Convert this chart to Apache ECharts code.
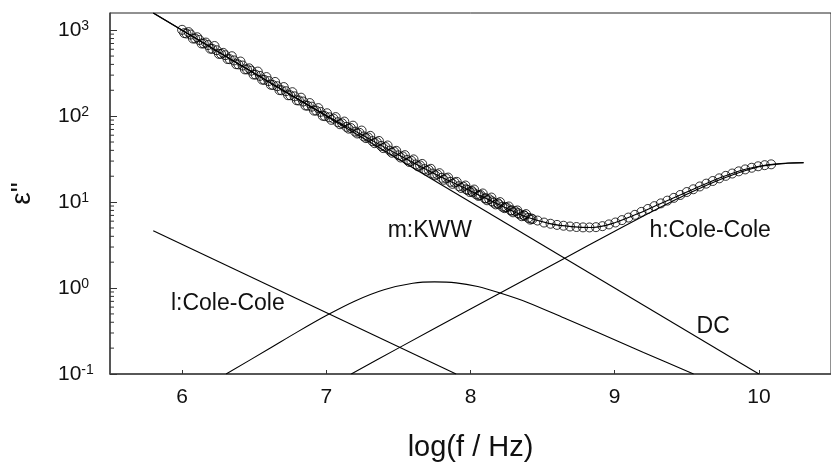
<!DOCTYPE html>
<html><head><meta charset="utf-8">
<script src="https://cdn.jsdelivr.net/npm/echarts@6/dist/echarts.min.js"></script>
<style>html,body{margin:0;padding:0;background:#fff}#c{width:831px;height:470px}</style>
</head><body><div id="c"></div>
<script>
// ---- data ----
const xTicks = [6, 7, 8, 9, 10];
const yMinorTicks = [0.2,0.3,0.4,0.5,0.6,0.7,0.8,0.9, 2,3,4,5,6,7,8,9, 20,30,40,50,60,70,80,90, 200,300,400,500,600,700,800,900];

// measured points, dense low-frequency set (first run)
const freqA = [6.00,6.03,6.06,6.09,6.12,6.15,6.18,6.21,6.24,6.27,6.30,6.33,6.36,6.39,6.42,6.45,6.48,6.51,6.54,6.57,
  6.60,6.63,6.66,6.69,6.72,6.75,6.78,6.81,6.84,6.87,6.90,6.93,6.96,6.99,7.02,7.05,7.08,7.11,7.14,7.17,
  7.20,7.23,7.26,7.29,7.32,7.35,7.38,7.41,7.44,7.47,7.50,7.53,7.56,7.59,7.62,7.65,7.68,7.71,7.74,7.77,
  7.80,7.83,7.86,7.89,7.92,7.95,7.98,8.01,8.04,8.07,8.10,8.13,8.16,8.19,8.22,8.25,8.28,8.31,8.34,8.37,8.40,8.43];
const epsA = [1010,915,890,800,770,700,672,605,585,530,512,460,445,400,388,350,338,304,294,264,
  256,230,223,200,195,175,170,152,148,132,129,116,112,100,97,93.5,85,82.5,75,72.8,
  66,64,58,56.5,51.2,49.8,45,43.8,39.7,38.6,35,34,30.9,30.2,27.4,26.7,24.2,23.7,21.5,21.0,
  19.2,18.9,17.2,16.9,15.3,15.1,13.8,13.5,12.3,12.1,11.0,10.8,9.85,9.7,8.85,8.7,7.95,7.85,7.2,7.05,6.55,6.35];

// measured points, dense low-frequency set (second run)
const freqA2 = [6.015,6.045,6.075,6.105,6.135,6.165,6.195,6.225,6.255,6.285,6.315,6.345,6.375,6.405,6.435,6.465,6.495,6.525,6.555,6.585,
  6.615,6.645,6.675,6.705,6.735,6.765,6.795,6.825,6.855,6.885,6.915,6.945,6.975,7.005,7.035,7.065,7.095,7.125,7.155,7.185,
  7.215,7.245,7.275,7.305,7.335,7.365,7.395,7.425,7.455,7.485,7.515,7.545,7.575,7.605,7.635,7.665,7.695,7.725,7.755,7.785,
  7.815,7.845,7.875,7.905,7.935,7.965,7.995,8.025,8.055,8.085,8.115,8.145,8.175,8.205,8.235,8.265,8.295,8.325,8.355,8.385,8.415];
const epsA2 = [925,950,800,828,700,718,610,655,530,545,462,498,402,432,350,360,305,330,266,285,
  232,250,201,218,175,190,153,164,133,142,116,124,101,108,90.5,97.5,80.5,86.5,71.5,77.5,
  62.8,68,55.5,59,48.5,51.5,42.5,45.6,37.5,39.5,33.0,35.2,29.3,31.4,26.1,27.8,23.1,24.4,20.5,21.7,
  18.2,19.3,16.3,17.2,14.6,15.6,13.1,14.0,11.8,12.6,10.5,11.3,9.4,10.0,8.5,8.9,7.6,8.0,6.85,7.25,6.25];

// measured points, high-frequency set
const freqB = [7.97,8.015,8.06,8.105,8.15,8.195,8.24,8.285,8.33,8.375,8.42,8.465,8.51,8.555,8.60,8.645,8.69,8.735,8.78,8.825,
  8.87,8.915,8.96,9.005,9.05,9.095,9.14,9.185,9.23,9.275,9.32,9.365,9.41,9.455,9.50,9.545,9.59,9.635,9.68,9.725,
  9.77,9.815,9.86,9.905,9.95,9.995,10.04,10.085];
const epsB = [14.1,13.0,12.0,11.1,10.2,9.44,8.71,8.04,7.45,6.92,6.46,6.10,5.78,5.60,5.43,5.31,5.20,5.13,5.08,5.07,
  5.11,5.25,5.50,5.79,6.17,6.61,7.11,7.69,8.32,8.97,9.66,10.4,11.2,12.1,13.1,14.1,15.2,16.4,17.6,18.9,
  20.2,21.5,22.8,24.0,25.1,26.1,26.9,27.5];

// total fit
const fitFreq = [5.8,6.0,6.5,7.0,7.25,7.5,7.75,8.0,8.25,8.4,8.55,8.7,8.85,9.0,9.15,9.3,9.45,9.6,9.75,9.9,10.05,10.2,10.31];
const fitEps  = [1585,1000,316,102,60.3,35.5,21.4,13.5,8.5,6.6,5.62,5.19,5.07,5.75,7.2,9.3,12.0,15.5,19.7,23.9,27.0,28.5,28.8];

// components
const dcFreq = [5.8, 10.0];
const dcEps  = [1585, 0.1];
const lowFreq = [5.8, 7.9];
const lowEps  = [4.65, 0.1];
const kwwFreq = [6.305,6.6,6.8,7.0,7.2,7.4,7.6,7.75,7.9,8.05,8.2,8.4,8.65,8.9,9.2,9.547];
const kwwEps  = [0.1,0.195,0.309,0.479,0.708,0.955,1.135,1.18,1.15,1.04,0.88,0.676,0.447,0.295,0.178,0.1];
const highFreq = [7.173,7.5,8.0,8.65,9.0,9.25,9.5,9.75,10.0,10.2,10.31];
const highEps  = [0.1,0.2,0.569,2.21,4.57,7.6,12.3,18.8,25.8,28.3,28.7];

// annotation texts and their anchors (data coordinates)
const labelTexts = ['m:KWW', 'h:Cole-Cole', 'l:Cole-Cole', 'DC'];
const labelFreq  = [7.718, 9.662, 6.317, 9.683];
const labelEps   = [4.6, 4.6, 0.652, 0.355];

// ---- chart ----
const FONT = "'Liberation Sans', Arial, sans-serif";
const zip = (a, b) => a.map((x, i) => [x, b[i]]);
const lineStyle = { color: '#000', width: 1.1 };
const mkLine = (f, e, smooth) => ({
  type: 'line', data: zip(f, e), symbol: 'none', smooth: smooth ? 0.3 : false,
  lineStyle: lineStyle, silent: true, z: 3, clip: true
});
const mkScatter = (f, e, size) => ({
  type: 'scatter', data: zip(f, e), symbol: 'circle', symbolSize: size,
  itemStyle: { color: 'transparent', borderColor: '#000', borderWidth: 1 }, z: 2
});

const chart = echarts.init(document.getElementById('c'), null, { renderer: 'canvas' });
chart.setOption({
  animation: false,
  backgroundColor: '#fff',
  grid: { left: 110, top: 13, right: -4, bottom: 96, show: true, borderColor: '#222', borderWidth: 1, backgroundColor: 'transparent' },
  xAxis: {
    type: 'value', min: 5.5, max: 10.5,
    name: 'log(f / Hz)', nameLocation: 'middle', nameGap: 59,
    nameTextStyle: { fontFamily: FONT, fontSize: 29, color: '#111' },
    axisLine: { show: true, lineStyle: { color: '#444', width: 1.5 } },
    axisTick: { show: true, inside: true, length: 4, customValues: xTicks, lineStyle: { color: '#333' } },
    axisLabel: { customValues: xTicks, margin: 13, fontFamily: FONT, fontSize: 21, color: '#111' },
    splitLine: { show: false }
  },
  yAxis: {
    type: 'log', logBase: 10, min: 0.1, max: 1585,
    name: 'ε"', nameLocation: 'middle', nameGap: 74, nameRotate: 90,
    nameTextStyle: { fontFamily: FONT, fontSize: 28, color: '#111' },
    axisLine: { show: true, lineStyle: { color: '#444', width: 1.5 } },
    axisTick: { show: true, inside: true, length: 7, lineStyle: { color: '#333' } },
    axisLabel: {
      showMaxLabel: false, showMinLabel: true, align: 'left', margin: 52,
      formatter: v => '{b|10}{s|' + Math.round(Math.log10(v)) + '}',
      rich: {
        b: { fontFamily: FONT, fontSize: 21, color: '#111', lineHeight: 22 },
        s: { fontFamily: FONT, fontSize: 14, color: '#111', verticalAlign: 'top', lineHeight: 14 }
      }
    },
    splitLine: { show: false }
  },
  series: [
    mkScatter(freqA, epsA, 9),
    mkScatter(freqA2, epsA2, 9),
    mkScatter(freqB, epsB, 9),
    mkLine(fitFreq, fitEps, true),
    mkLine(dcFreq, dcEps, false),
    mkLine(lowFreq, lowEps, false),
    mkLine(kwwFreq, kwwEps, true),
    mkLine(highFreq, highEps, true),
    {
      type: 'custom', silent: true, z: 5, clip: false,
      data: yMinorTicks.map(v => [5.5, v]),
      encode: { x: 0, y: 1 },
      renderItem: (params, api) => {
        const p = api.coord([api.value(0), api.value(1)]);
        return { type: 'line', shape: { x1: p[0], y1: p[1], x2: p[0] + 4, y2: p[1] }, style: { stroke: '#333', lineWidth: 1 } };
      }
    },
    {
      type: 'custom', silent: true, z: 6, clip: false,
      data: labelTexts.map((t, i) => [labelFreq[i], labelEps[i], i]),
      encode: { x: 0, y: 1 },
      renderItem: (params, api) => {
        const p = api.coord([api.value(0), api.value(1)]);
        return { type: 'text', x: p[0], y: p[1], style: { text: labelTexts[api.value(2)], fontFamily: FONT, fontSize: 23, fill: '#111', align: 'center', verticalAlign: 'middle' } };
      }
    }
  ]
});
</script></body></html>
